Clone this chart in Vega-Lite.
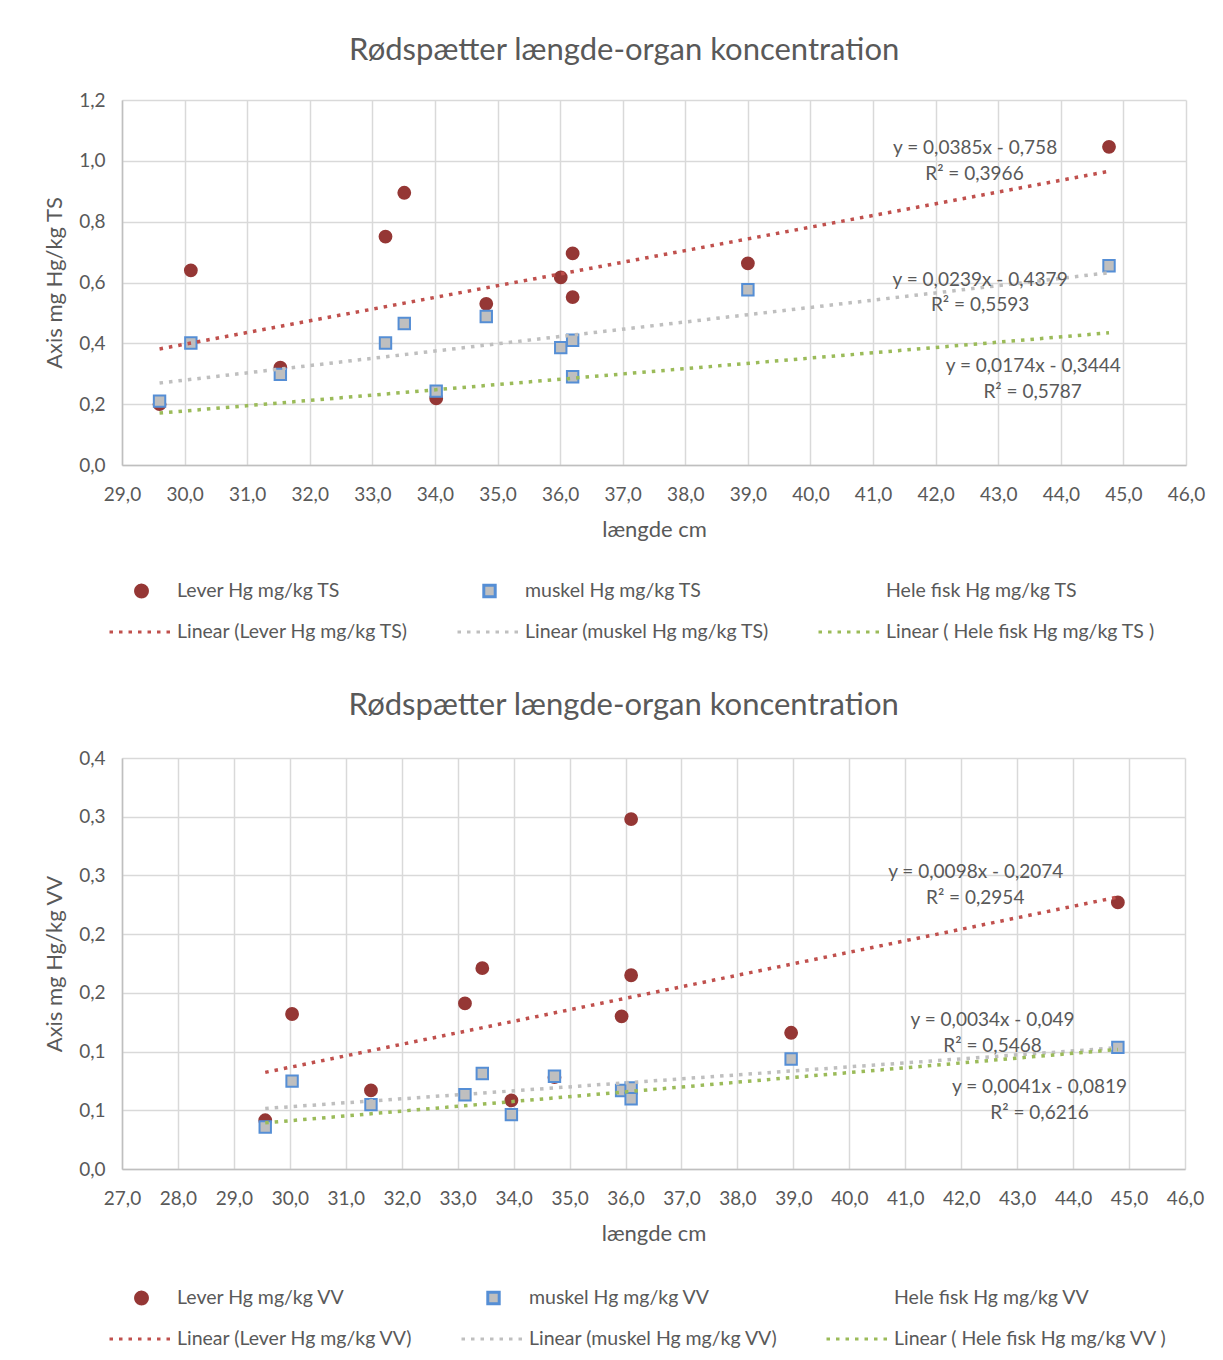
{
  "$schema": "https://vega.github.io/schema/vega-lite/v6.json",
  "padding": {"left": 43, "top": 35, "right": 10, "bottom": 0},
  "spacing": 46,
  "datasets": {
    "ptsTS": [
      {"x": 29.6, "y": 0.2, "k": "Lever Hg mg/kg TS"},
      {"x": 30.1, "y": 0.64, "k": "Lever Hg mg/kg TS"},
      {"x": 31.53, "y": 0.32, "k": "Lever Hg mg/kg TS"},
      {"x": 33.21, "y": 0.751, "k": "Lever Hg mg/kg TS"},
      {"x": 33.51, "y": 0.895, "k": "Lever Hg mg/kg TS"},
      {"x": 34.02, "y": 0.219, "k": "Lever Hg mg/kg TS"},
      {"x": 34.82, "y": 0.53, "k": "Lever Hg mg/kg TS"},
      {"x": 36.01, "y": 0.617, "k": "Lever Hg mg/kg TS"},
      {"x": 36.2, "y": 0.696, "k": "Lever Hg mg/kg TS"},
      {"x": 36.2, "y": 0.552, "k": "Lever Hg mg/kg TS"},
      {"x": 39.0, "y": 0.663, "k": "Lever Hg mg/kg TS"},
      {"x": 44.77, "y": 1.046, "k": "Lever Hg mg/kg TS"},
      {"x": 29.6, "y": 0.21, "k": "muskel Hg mg/kg TS"},
      {"x": 30.1, "y": 0.401, "k": "muskel Hg mg/kg TS"},
      {"x": 31.53, "y": 0.298, "k": "muskel Hg mg/kg TS"},
      {"x": 33.21, "y": 0.401, "k": "muskel Hg mg/kg TS"},
      {"x": 33.51, "y": 0.465, "k": "muskel Hg mg/kg TS"},
      {"x": 34.02, "y": 0.243, "k": "muskel Hg mg/kg TS"},
      {"x": 34.82, "y": 0.488, "k": "muskel Hg mg/kg TS"},
      {"x": 36.01, "y": 0.386, "k": "muskel Hg mg/kg TS"},
      {"x": 36.2, "y": 0.41, "k": "muskel Hg mg/kg TS"},
      {"x": 36.2, "y": 0.29, "k": "muskel Hg mg/kg TS"},
      {"x": 39.0, "y": 0.576, "k": "muskel Hg mg/kg TS"},
      {"x": 44.77, "y": 0.655, "k": "muskel Hg mg/kg TS"}
    ],
    "linTS": [
      {"x": 29.6, "y": 0.3816, "k": "Linear (Lever Hg mg/kg TS)"},
      {"x": 44.77, "y": 0.9656, "k": "Linear (Lever Hg mg/kg TS)"},
      {"x": 29.6, "y": 0.2695, "k": "Linear (muskel Hg mg/kg TS)"},
      {"x": 44.77, "y": 0.6321, "k": "Linear (muskel Hg mg/kg TS)"},
      {"x": 29.6, "y": 0.1706, "k": "Linear ( Hele fisk Hg mg/kg TS )"},
      {"x": 44.77, "y": 0.4346, "k": "Linear ( Hele fisk Hg mg/kg TS )"}
    ],
    "lblTS": [
      {"x": 42.63, "y": 1.042, "t": "y = 0,0385x - 0,758"},
      {"x": 42.62, "y": 0.957, "t": "R² = 0,3966"},
      {"x": 42.71, "y": 0.608, "t": "y = 0,0239x - 0,4379"},
      {"x": 42.71, "y": 0.526, "t": "R² = 0,5593"},
      {"x": 43.56, "y": 0.325, "t": "y = 0,0174x - 0,3444"},
      {"x": 43.55, "y": 0.24, "t": "R² = 0,5787"}
    ],
    "ptsVV": [
      {"x": 29.56, "y": 0.0415, "k": "Lever Hg mg/kg VV"},
      {"x": 30.04, "y": 0.132, "k": "Lever Hg mg/kg VV"},
      {"x": 31.45, "y": 0.0669, "k": "Lever Hg mg/kg VV"},
      {"x": 33.13, "y": 0.141, "k": "Lever Hg mg/kg VV"},
      {"x": 33.44, "y": 0.171, "k": "Lever Hg mg/kg VV"},
      {"x": 33.96, "y": 0.0584, "k": "Lever Hg mg/kg VV"},
      {"x": 34.73, "y": 0.0782, "k": "Lever Hg mg/kg VV"},
      {"x": 35.93, "y": 0.13, "k": "Lever Hg mg/kg VV"},
      {"x": 36.1, "y": 0.298, "k": "Lever Hg mg/kg VV"},
      {"x": 36.1, "y": 0.165, "k": "Lever Hg mg/kg VV"},
      {"x": 38.96, "y": 0.116, "k": "Lever Hg mg/kg VV"},
      {"x": 44.8, "y": 0.227, "k": "Lever Hg mg/kg VV"},
      {"x": 29.56, "y": 0.0358, "k": "muskel Hg mg/kg VV"},
      {"x": 30.04, "y": 0.0748, "k": "muskel Hg mg/kg VV"},
      {"x": 31.45, "y": 0.0548, "k": "muskel Hg mg/kg VV"},
      {"x": 33.13, "y": 0.0632, "k": "muskel Hg mg/kg VV"},
      {"x": 33.44, "y": 0.0813, "k": "muskel Hg mg/kg VV"},
      {"x": 33.96, "y": 0.0463, "k": "muskel Hg mg/kg VV"},
      {"x": 34.73, "y": 0.079, "k": "muskel Hg mg/kg VV"},
      {"x": 35.93, "y": 0.0669, "k": "muskel Hg mg/kg VV"},
      {"x": 36.1, "y": 0.0691, "k": "muskel Hg mg/kg VV"},
      {"x": 36.1, "y": 0.0598, "k": "muskel Hg mg/kg VV"},
      {"x": 38.96, "y": 0.0937, "k": "muskel Hg mg/kg VV"},
      {"x": 44.8, "y": 0.1036, "k": "muskel Hg mg/kg VV"}
    ],
    "linVV": [
      {"x": 29.56, "y": 0.0823, "k": "Linear (Lever Hg mg/kg VV)"},
      {"x": 44.8, "y": 0.2316, "k": "Linear (Lever Hg mg/kg VV)"},
      {"x": 29.56, "y": 0.0515, "k": "Linear (muskel Hg mg/kg VV)"},
      {"x": 44.8, "y": 0.1033, "k": "Linear (muskel Hg mg/kg VV)"},
      {"x": 29.56, "y": 0.0393, "k": "Linear ( Hele fisk Hg mg/kg VV )"},
      {"x": 44.8, "y": 0.1018, "k": "Linear ( Hele fisk Hg mg/kg VV )"}
    ],
    "lblVV": [
      {"x": 42.26, "y": 0.2529, "t": "y = 0,0098x - 0,2074"},
      {"x": 42.25, "y": 0.2308, "t": "R² = 0,2954"},
      {"x": 42.56, "y": 0.1269, "t": "y = 0,0034x - 0,049"},
      {"x": 42.56, "y": 0.1047, "t": "R² = 0,5468"},
      {"x": 43.4, "y": 0.0698, "t": "y = 0,0041x - 0,0819"},
      {"x": 43.4, "y": 0.0477, "t": "R² = 0,6216"}
    ]
  },
  "vconcat": [
    {
      "width": 1064,
      "height": 365,
      "title": {"text": "Rødspætter længde-organ koncentration", "offset": 24},
      "encoding": {
        "x": {"field": "x", "type": "quantitative", "title": "længde cm",
          "scale": {"domain": [29, 46], "nice": false, "zero": false},
          "axis": {"values": [29,30,31,32,33,34,35,36,37,38,39,40,41,42,43,44,45,46], "format": ".1f"}},
        "y": {"field": "y", "type": "quantitative", "title": "Axis mg Hg/kg TS",
          "scale": {"domain": [0, 1.2], "nice": false},
          "axis": {"values": [0, 0.2, 0.4, 0.6, 0.8, 1.0, 1.2], "format": ".1f"}}
      },
      "layer": [
        {
          "data": {"name": "ptsTS"},
          "mark": {"type": "point", "opacity": 1, "strokeWidth": 2},
          "encoding": {
            "shape": {"field": "k", "type": "nominal", "scale": {"domain": ["Lever Hg mg/kg TS", "muskel Hg mg/kg TS", "Hele fisk Hg mg/kg TS", "Linear (Lever Hg mg/kg TS)", "Linear (muskel Hg mg/kg TS)", "Linear ( Hele fisk Hg mg/kg TS )"], "range": ["circle", "square", "circle", "stroke", "stroke", "stroke"]},
              "legend": {"orient": "none", "direction": "horizontal", "legendX": -14, "legendY": 479, "columns": 3, "title": null}},
            "fill": {"field": "k", "type": "nominal", "scale": {"domain": ["Lever Hg mg/kg TS", "muskel Hg mg/kg TS", "Hele fisk Hg mg/kg TS", "Linear (Lever Hg mg/kg TS)", "Linear (muskel Hg mg/kg TS)", "Linear ( Hele fisk Hg mg/kg TS )"], "range": ["#953735", "#BFBFBF", "transparent", "transparent", "transparent", "transparent"]},
              "legend": {"orient": "none", "direction": "horizontal", "legendX": -14, "legendY": 479, "columns": 3, "title": null}},
            "stroke": {"field": "k", "type": "nominal", "scale": {"domain": ["Lever Hg mg/kg TS", "muskel Hg mg/kg TS", "Hele fisk Hg mg/kg TS", "Linear (Lever Hg mg/kg TS)", "Linear (muskel Hg mg/kg TS)", "Linear ( Hele fisk Hg mg/kg TS )"], "range": ["#953735", "#558ED5", "transparent", "#C0504D", "#BFBFBF", "#9BBB59"]},
              "legend": {"orient": "none", "direction": "horizontal", "legendX": -14, "legendY": 479, "columns": 3, "title": null}},
            "size": {"field": "k", "type": "nominal", "scale": {"type": "ordinal", "domain": ["Lever Hg mg/kg TS", "muskel Hg mg/kg TS", "Hele fisk Hg mg/kg TS", "Linear (Lever Hg mg/kg TS)", "Linear (muskel Hg mg/kg TS)", "Linear ( Hele fisk Hg mg/kg TS )"], "range": [140, 130, 140, 4096, 4096, 4096]},
              "legend": {"orient": "none", "direction": "horizontal", "legendX": -14, "legendY": 479, "columns": 3, "title": null}}
          }
        },
        {
          "data": {"name": "linTS"},
          "mark": {"type": "line", "strokeWidth": 3.5},
          "encoding": {
            "stroke": {"field": "k", "type": "nominal"},
            "strokeDash": {"field": "k", "type": "nominal", "scale": {"domain": ["Lever Hg mg/kg TS", "muskel Hg mg/kg TS", "Hele fisk Hg mg/kg TS", "Linear (Lever Hg mg/kg TS)", "Linear (muskel Hg mg/kg TS)", "Linear ( Hele fisk Hg mg/kg TS )"], "range": [[1, 0], [1, 0], [1, 0], [3.5, 6], [3.5, 6], [3.5, 6]]},
              "legend": {"orient": "none", "direction": "horizontal", "legendX": -14, "legendY": 479, "columns": 3, "title": null}}
          }
        },
        {
          "data": {"name": "lblTS"},
          "mark": {"type": "text", "fontSize": 19, "color": "#595959", "align": "center", "baseline": "middle"},
          "encoding": {"text": {"field": "t"}}
        }
      ]
    },
    {
      "width": 1063,
      "height": 411,
      "title": {"text": "Rødspætter længde-organ koncentration", "offset": 27},
      "encoding": {
        "x": {"field": "x", "type": "quantitative", "title": "længde cm",
          "scale": {"domain": [27, 46], "nice": false, "zero": false},
          "axis": {"values": [27,28,29,30,31,32,33,34,35,36,37,38,39,40,41,42,43,44,45,46], "format": ".1f"}},
        "y": {"field": "y", "type": "quantitative", "title": "Axis mg Hg/kg VV",
          "scale": {"domain": [0, 0.35], "nice": false},
          "axis": {"values": [0, 0.05, 0.1, 0.15, 0.2, 0.25, 0.3, 0.35], "labelExpr": "replace(format(round(datum.value*10+0.001)/10, '.1f'), '.', ',')"}}
      },
      "layer": [
        {
          "data": {"name": "ptsVV"},
          "mark": {"type": "point", "opacity": 1, "strokeWidth": 2},
          "encoding": {
            "shape": {"field": "k", "type": "nominal", "scale": {"domain": ["Lever Hg mg/kg VV", "muskel Hg mg/kg VV", "Hele fisk Hg mg/kg VV", "Linear (Lever Hg mg/kg VV)", "Linear (muskel Hg mg/kg VV)", "Linear ( Hele fisk Hg mg/kg VV )"], "range": ["circle", "square", "circle", "stroke", "stroke", "stroke"]},
              "legend": {"orient": "none", "direction": "horizontal", "legendX": -14, "legendY": 528, "columns": 3, "title": null}},
            "fill": {"field": "k", "type": "nominal", "scale": {"domain": ["Lever Hg mg/kg VV", "muskel Hg mg/kg VV", "Hele fisk Hg mg/kg VV", "Linear (Lever Hg mg/kg VV)", "Linear (muskel Hg mg/kg VV)", "Linear ( Hele fisk Hg mg/kg VV )"], "range": ["#953735", "#BFBFBF", "transparent", "transparent", "transparent", "transparent"]},
              "legend": {"orient": "none", "direction": "horizontal", "legendX": -14, "legendY": 528, "columns": 3, "title": null}},
            "stroke": {"field": "k", "type": "nominal", "scale": {"domain": ["Lever Hg mg/kg VV", "muskel Hg mg/kg VV", "Hele fisk Hg mg/kg VV", "Linear (Lever Hg mg/kg VV)", "Linear (muskel Hg mg/kg VV)", "Linear ( Hele fisk Hg mg/kg VV )"], "range": ["#953735", "#558ED5", "transparent", "#C0504D", "#BFBFBF", "#9BBB59"]},
              "legend": {"orient": "none", "direction": "horizontal", "legendX": -14, "legendY": 528, "columns": 3, "title": null}},
            "size": {"field": "k", "type": "nominal", "scale": {"type": "ordinal", "domain": ["Lever Hg mg/kg VV", "muskel Hg mg/kg VV", "Hele fisk Hg mg/kg VV", "Linear (Lever Hg mg/kg VV)", "Linear (muskel Hg mg/kg VV)", "Linear ( Hele fisk Hg mg/kg VV )"], "range": [140, 130, 140, 4096, 4096, 4096]},
              "legend": {"orient": "none", "direction": "horizontal", "legendX": -14, "legendY": 528, "columns": 3, "title": null}}
          }
        },
        {
          "data": {"name": "linVV"},
          "mark": {"type": "line", "strokeWidth": 3.5},
          "encoding": {
            "stroke": {"field": "k", "type": "nominal"},
            "strokeDash": {"field": "k", "type": "nominal", "scale": {"domain": ["Lever Hg mg/kg VV", "muskel Hg mg/kg VV", "Hele fisk Hg mg/kg VV", "Linear (Lever Hg mg/kg VV)", "Linear (muskel Hg mg/kg VV)", "Linear ( Hele fisk Hg mg/kg VV )"], "range": [[1, 0], [1, 0], [1, 0], [3.5, 6], [3.5, 6], [3.5, 6]]},
              "legend": {"orient": "none", "direction": "horizontal", "legendX": -14, "legendY": 528, "columns": 3, "title": null}}
          }
        },
        {
          "data": {"name": "lblVV"},
          "mark": {"type": "text", "fontSize": 19, "color": "#595959", "align": "center", "baseline": "middle"},
          "encoding": {"text": {"field": "t"}}
        }
      ]
    }
  ],
  "resolve": {
    "scale": {"x": "independent", "y": "independent", "shape": "independent", "fill": "independent", "stroke": "independent", "size": "independent", "strokeDash": "independent"}
  },
  "config": {
    "font": "Lato",
    "locale": {"number": {"decimal": ",", "thousands": ".", "grouping": [3], "currency": ["", " kr."]}},
    "view": {"stroke": null},
    "title": {"fontSize": 31, "fontWeight": "normal", "color": "#595959", "anchor": "middle", "frame": "bounds"},
    "axis": {"gridColor": "#D9D9D9", "gridWidth": 1.5, "domainColor": "#BFBFBF", "domainWidth": 1.5, "ticks": false,
      "labelColor": "#595959", "labelFontSize": 19, "titleColor": "#595959", "titleFontSize": 22, "titleFontWeight": "normal", "labelPadding": 17, "titlePadding": 12,
      "labelFlush": false, "labelOverlap": false},
    "axisX": {"labelPadding": 20, "titlePadding": 15},
    "legend": {"labelFontSize": 19.5, "labelColor": "#595959", "columnPadding": 47, "rowPadding": 17, "clipHeight": 24, "symbolStrokeWidth": 3, "labelOffset": 2, "labelLimit": 400}
  }
}
